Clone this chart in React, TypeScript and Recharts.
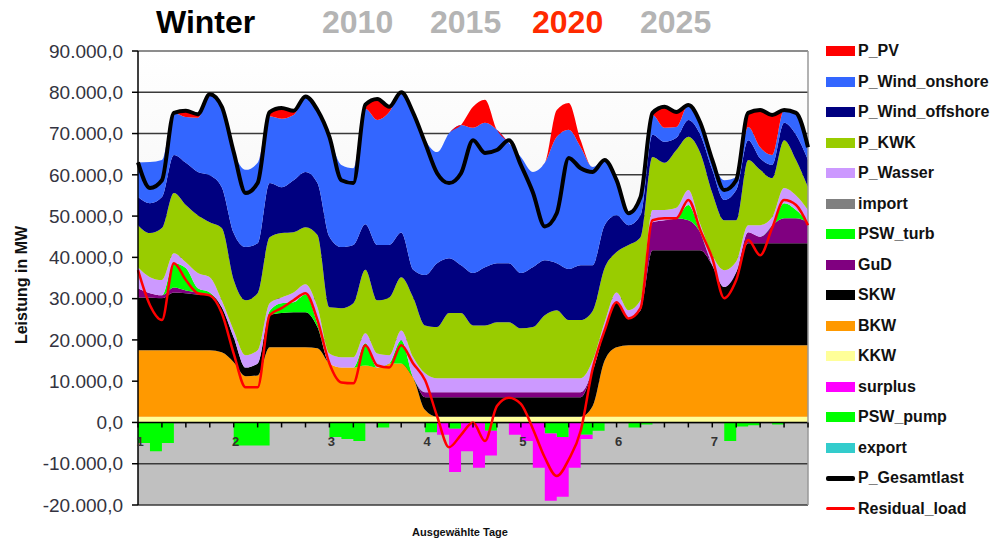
import { ComposedChart, Area, Line, XAxis, YAxis, CartesianGrid, ReferenceLine } from 'recharts'

// hours of the selected week, sampled every 3 h (7 days)
const hours = Array.from({ length: 57 }, (_, i) => i * 3)
const dayTicks = Array.from({ length: 29 }, (_, i) => i * 6)
const yTicks = [-20000, -10000, 0, 10000, 20000, 30000, 40000, 50000, 60000, 70000, 80000, 90000]

// MW per sample (rows = days)
const kkw = [
  1400, 1400, 1400, 1400, 1400, 1400, 1400, 1400,
  1400, 1400, 1400, 1400, 1400, 1400, 1400, 1400,
  1400, 1400, 1400, 1400, 1400, 1400, 1400, 1400,
  1400, 1400, 1400, 1400, 1400, 1400, 1400, 1400,
  1400, 1400, 1400, 1400, 1400, 1400, 1400, 1400,
  1400, 1400, 1400, 1400, 1400, 1400, 1400, 1400,
  1400, 1400, 1400, 1400, 1400, 1400, 1400, 1400,
  1400,
]
const bkw = [
  16100, 16100, 16100, 16100, 16100, 16100, 16100, 15600,
  13200, 9800, 10000, 16800, 16800, 16800, 16800, 16600,
  12900, 11900, 11900, 12400, 11900, 12900, 12900, 9500,
  1600, 0, 0, 0, 0, 0, 0, 0,
  0, 0, 0, 0, 0, 0, 2600, 13600,
  16800, 17300, 17300, 17300, 17300, 17300, 17300, 17300,
  17300, 17300, 17300, 17300, 17300, 17300, 17300, 17300,
  17300,
]
const skw = [
  12800, 12800, 12600, 14000, 13800, 13500, 13500, 10900,
  6000, 2100, 2900, 7800, 8300, 8500, 8500, 5100,
  0, 0, 0, 0, 0, 0, 0, 0,
  3100, 4700, 4700, 4700, 4700, 4700, 4700, 4700,
  4700, 4700, 4700, 4700, 4700, 4700, 8500, 7300,
  10900, 6500, 8500, 23000, 23000, 23000, 23000, 23000,
  19400, 14100, 17700, 24700, 24700, 24700, 24700, 24700,
  24700,
]
const gud = [
  2200, 1000, 700, 1200, 700, 500, 0, 0,
  0, 0, 0, 0, 0, 0, 0, 0,
  0, 0, 0, 0, 0, 0, 0, 0,
  1200, 1200, 1200, 1200, 1200, 1200, 1200, 1200,
  1200, 1200, 1200, 1200, 1200, 1200, 0, 0,
  0, 0, 0, 6800, 7300, 7800, 7300, 4300,
  0, 0, 0, 2700, 1600, 4400, 6100, 6100,
  5100,
]
const pswTurb = [
  0, 0, 0, 5900, 5400, 1000, 500, 0,
  0, 0, 0, 1000, 2400, 2400, 4300, 900,
  0, 0, 0, 5400, 0, 0, 5600, 0,
  0, 0, 0, 0, 0, 0, 0, 0,
  0, 0, 0, 0, 0, 0, 0, 0,
  0, 0, 0, 0, 0, 0, 3700, 0,
  0, 0, 0, 0, 0, 0, 3600, 2000,
  0,
]
const importMW = [
  0, 0, 0, 0, 0, 0, 0, 0,
  0, 0, 0, 0, 0, 0, 0, 0,
  0, 0, 0, 0, 0, 0, 0, 0,
  0, 0, 0, 0, 0, 0, 0, 0,
  0, 0, 0, 0, 0, 0, 0, 0,
  0, 0, 0, 0, 0, 0, 0, 0,
  0, 0, 0, 0, 0, 0, 0, 0,
  0,
]
const wasser = [
  5100, 3900, 3700, 2400, 1400, 3700, 3700, 1700,
  1700, 3000, 3200, 1900, 1400, 2400, 2500, 3900,
  2400, 2500, 2500, 2400, 3400, 2000, 2400, 4900,
  4600, 3400, 3400, 3400, 3400, 3400, 3400, 3400,
  3400, 3400, 3400, 3400, 3400, 3400, 2500, 2000,
  2400, 2000, 2400, 3000, 2500, 2500, 3600, 2000,
  2400, 4100, 2600, 1700, 2800, 1900, 3700, 3500,
  3000,
]
const kwk = [
  10200, 10700, 12600, 14600, 13900, 14000, 13300, 17500,
  12200, 13300, 13800, 16000, 15600, 14600, 13800, 17500,
  11200, 11900, 13100, 15400, 12900, 14000, 12900, 14500,
  11600, 12400, 15800, 15800, 12800, 12800, 13600, 13600,
  12100, 12400, 15300, 16500, 14100, 14100, 12000, 13100,
  9800, 15800, 15300, 12800, 11400, 14000, 12900, 17300,
  15100, 12100, 10000, 15800, 13400, 9500, 11600, 8600,
  5500,
]
const windOffshore = [
  6800, 7200, 7500, 9200, 10200, 10500, 11400, 9900,
  11400, 12900, 12100, 13100, 11100, 12600, 13400, 12600,
  17100, 14800, 14100, 11000, 13400, 12700, 10800, 6700,
  12200, 15500, 13300, 11600, 12700, 14100, 14300, 14300,
  13400, 14500, 13300, 11400, 12400, 13300, 11100, 10400,
  8900, 4800, 5300, 5400, 5100, 3000, 4100, 4400,
  5600, 4900, 7300, 4800, 2800, 3200, 4200, 6100,
  6600,
]
const windOnshore = [
  8400, 10000, 9000, 10200, 11100, 13100, 19600, 19500,
  19600, 18700, 19500, 16200, 16600, 15800, 18300, 17700,
  24200, 19900, 18600, 28000, 30300, 32200, 34000, 38700,
  32800, 26900, 30300, 34000, 35200, 35000, 32300, 29100,
  28100, 23100, 23600, 30600, 33700, 28600, 23800, 15800,
  8500, 2900, 4400, 4800, 3400, 2600, 3600, 2900,
  2400, 4800, 3200, 3200, 2700, 2400, 3100, 5300,
  3100,
]
const pv = [
  0, 0, 0, 0, 1500, 900, 0, 0,
  0, 0, 0, 1000, 2600, 1000, 0, 0,
  0, 0, 0, 1500, 4900, 1300, 0, 0,
  0, 0, 0, 0, 5100, 5600, 0, 0,
  0, 0, 0, 6500, 6500, 1700, 0, 0,
  0, 0, 0, 500, 5100, 3600, 0, 0,
  0, 0, 0, 3400, 9000, 9700, 0, 0,
  0,
]
const pswPump = [
  -5000, -7000, -5000, 0, 0, 0, 0, 0,
  -5600, -5600, -5600, 0, 0, 0, 0, 0,
  -3500, -4000, -4500, 0, -1200, 0, 0, 0,
  -2400, 0, -1500, 0, 0, -2000, 0, 0,
  0, 0, -2700, -3500, 0, -3000, -2000, 0,
  0, -1200, -500, 0, 0, 0, 0, 0,
  0, -4500, -1000, -700, 0, -500, 0, 0,
  0,
]
const surplus = [
  0, 0, 0, 0, 0, 0, 0, 0,
  0, 0, 0, 0, 0, 0, 0, 0,
  0, 0, 0, 0, 0, 0, 0, 0,
  0, -3000, -10500, -7000, -11000, -6000, 0, -3000,
  -4500, -11000, -16300, -14500, -11000, -1000, 0, 0,
  0, 0, 0, 0, 0, 0, 0, 0,
  0, 0, 0, 0, 0, 0, 0, 0,
  0,
]
const exportMW = [
  0, 0, 0, 0, 0, 0, 0, 0,
  0, 0, 0, 0, 0, 0, 0, 0,
  0, 0, 0, 0, 0, 0, 0, 0,
  0, 0, 0, 0, 0, 0, 0, 0,
  0, 0, 0, 0, 0, 0, 0, 0,
  0, 0, 0, 0, 0, 0, 0, 0,
  0, 0, 0, 0, 0, 0, 0, 0,
  0,
]
const gesamtlast = [
  63000, 56800, 58700, 75000, 75500, 74700, 79500, 76500,
  65500, 55600, 58000, 75200, 76200, 75500, 79000, 75700,
  69200, 58700, 58000, 77000, 78400, 76500, 80000, 75000,
  67700, 60400, 58000, 60400, 68400, 65300, 66000, 68400,
  62400, 55800, 47500, 50700, 64100, 61600, 60700, 63600,
  58700, 50700, 54600, 75000, 76500, 75200, 76900, 72600,
  63600, 56300, 58700, 75000, 75700, 74500, 75700, 75000,
  66700,
]
const residualLoad = [
  36900, 28400, 24800, 38600, 34500, 31300, 30800, 26500,
  16700, 8500, 8500, 26000, 27700, 29600, 31300, 24800,
  14300, 9700, 9500, 18700, 13800, 13300, 18700, 14300,
  10200, 1500, -6000, -3000, 0, -4500, 4000, 6000,
  4500, -1500, -8500, -13000, -9000, -2000, 13000, 22300,
  29100, 25200, 27700, 49000, 49500, 49500, 53900, 46600,
  39800, 30100, 34500, 44200, 40500, 47100, 53900, 52700,
  47800,
]

const stacked = [
  { key: 'KKW', values: kkw, color: '#ffff99' },
  { key: 'BKW', values: bkw, color: '#ff9900' },
  { key: 'SKW', values: skw, color: '#000000' },
  { key: 'GuD', values: gud, color: '#800080' },
  { key: 'PSW_turb', values: pswTurb, color: '#00ff00' },
  { key: 'import', values: importMW, color: '#808080' },
  { key: 'P_Wasser', values: wasser, color: '#cc99ff' },
  { key: 'P_KWK', values: kwk, color: '#99cc00' },
  { key: 'P_Wind_offshore', values: windOffshore, color: '#000080' },
  { key: 'P_Wind_onshore', values: windOnshore, color: '#3366ff' },
  { key: 'P_PV', values: pv, color: '#ff0000' },
]
const negative = [
  { key: 'PSW_pump', values: pswPump, color: '#00ff00' },
  { key: 'surplus', values: surplus, color: '#ff00ff' },
  { key: 'export', values: exportMW, color: '#33cccc' },
]

const legendItems = [
  { name: 'P_PV', color: '#ff0000' },
  { name: 'P_Wind_onshore', color: '#3366ff' },
  { name: 'P_Wind_offshore', color: '#000080' },
  { name: 'P_KWK', color: '#99cc00' },
  { name: 'P_Wasser', color: '#cc99ff' },
  { name: 'import', color: '#808080' },
  { name: 'PSW_turb', color: '#00ff00' },
  { name: 'GuD', color: '#800080' },
  { name: 'SKW', color: '#000000' },
  { name: 'BKW', color: '#ff9900' },
  { name: 'KKW', color: '#ffff99' },
  { name: 'surplus', color: '#ff00ff' },
  { name: 'PSW_pump', color: '#00ff00' },
  { name: 'export', color: '#33cccc' },
  { name: 'P_Gesamtlast', color: '#000000', line: 5 },
  { name: 'Residual_load', color: '#ff0000', line: 3 },
]

const data = hours.map((h, i) => {
  const row: Record<string, number> = { h, P_Gesamtlast: gesamtlast[i], Residual_load: residualLoad[i] }
  stacked.forEach(s => { row[s.key] = s.values[i] })
  negative.forEach(s => { row[s.key] = s.values[i] })
  return row
})

const FONT = '"Liberation Sans", Arial, Helvetica, sans-serif'
const CHART_W = 997
const CHART_H = 540
const MARGIN = { top: 51, right: 189, bottom: 10, left: 0 }
const Y_MIN = -20000
const Y_MAX = 90000
const PLOT_H = CHART_H - MARGIN.top - MARGIN.bottom - 25
const ZERO_Y = MARGIN.top + PLOT_H * Y_MAX / (Y_MAX - Y_MIN)
const zeroFrac = Y_MAX / (Y_MAX - Y_MIN)

const fmt = (v: number) => {
  const s = Math.abs(v).toString().replace(/\B(?=(\d{3})+(?!\d))/g, '.')
  return (v < 0 ? '-' : '') + s + ',0'
}

// x axis sits on the zero line, day numbers under it
const DayTick = ({ x, payload }: any) => {
  const h = payload.value
  return (
    <g>
      <line x1={x} x2={x} y1={ZERO_Y} y2={ZERO_Y + 5} stroke="#000" strokeWidth={1.5} />
      {h % 24 === 0 && h < 168 && (
        <text x={x + 2} y={ZERO_Y + 24} textAnchor="middle" fontSize={13} fontWeight="bold" fill="#333" fontFamily={FONT}>
          {h / 24 + 1}
        </text>
      )}
    </g>
  )
}

export default function App() {
  return (
    <div style={{ position: 'relative', width: CHART_W, height: CHART_H, background: '#fff', fontFamily: FONT }}>
      <style>{'body{margin:0}'}</style>

      {/* header */}
      <div style={{ position: 'absolute', top: 2, left: 0, fontSize: 32, fontWeight: 'bold', whiteSpace: 'nowrap', lineHeight: '40px' }}>
        <span style={{ position: 'absolute', left: 156, color: '#000' }}>Winter</span>
        <span style={{ position: 'absolute', left: 322, color: '#b4b4b4' }}>2010</span>
        <span style={{ position: 'absolute', left: 430, color: '#b4b4b4' }}>2015</span>
        <span style={{ position: 'absolute', left: 532, color: '#ff2a00' }}>2020</span>
        <span style={{ position: 'absolute', left: 640, color: '#b4b4b4' }}>2025</span>
      </div>

      <ComposedChart width={CHART_W} height={CHART_H} data={data} margin={MARGIN} stackOffset="sign">
        <defs>
          <linearGradient id="plotBg" x1="0" y1="0" x2="0" y2="1">
            <stop offset="0" stopColor="#ffffff" />
            <stop offset={zeroFrac} stopColor="#ececec" />
            <stop offset={zeroFrac} stopColor="#c0c0c0" />
            <stop offset="1" stopColor="#c0c0c0" />
          </linearGradient>
        </defs>
        <CartesianGrid vertical={false} stroke="#3a3a3a" strokeWidth={1.5} fill="url(#plotBg)" fillOpacity={1} />
        <XAxis
          dataKey="h"
          type="number"
          domain={[0, 168]}
          ticks={dayTicks}
          interval={0}
          height={25}
          axisLine={false}
          tickLine={false}
          tick={<DayTick />}
        />
        <YAxis
          type="number"
          domain={[Y_MIN, Y_MAX]}
          ticks={yTicks}
          width={138}
          interval={0}
          tickFormatter={fmt}
          tickSize={6}
          tickMargin={9}
          axisLine={{ stroke: '#000', strokeWidth: 1.5 }}
          tickLine={{ stroke: '#000', strokeWidth: 1.5 }}
          tick={{ fontSize: 19, fill: '#333340', fontFamily: FONT }}
        />
        {stacked.map(s => (
          <Area
            key={s.key}
            dataKey={s.key}
            stackId="mw"
            type="monotone"
            fill={s.color}
            fillOpacity={1}
            stroke="none"
            isAnimationActive={false}
          />
        ))}
        {negative.map(s => (
          <Area
            key={s.key}
            dataKey={s.key}
            stackId="mw"
            type="stepAfter"
            fill={s.color}
            fillOpacity={1}
            stroke="none"
            isAnimationActive={false}
          />
        ))}
        <ReferenceLine y={0} stroke="#000" strokeWidth={1.5} />
        <ReferenceLine y={Y_MAX} stroke="#999" strokeWidth={1.5} />
        <ReferenceLine x={168} stroke="#999" strokeWidth={1.5} />
        <Line dataKey="P_Gesamtlast" type="monotone" stroke="#000" strokeWidth={4} dot={false} isAnimationActive={false} />
        <Line dataKey="Residual_load" type="monotone" stroke="#ff0000" strokeWidth={2.5} dot={false} isAnimationActive={false} />
      </ComposedChart>

      {/* axis titles */}
      <div style={{ position: 'absolute', left: 22, top: 285, transform: 'translate(-50%, -50%) rotate(-90deg)', fontSize: 16, fontWeight: 'bold', whiteSpace: 'nowrap', color: '#111' }}>
        Leistung in MW
      </div>
      <div style={{ position: 'absolute', left: 460, top: 532, transform: 'translate(-50%, -50%)', fontSize: 11, fontWeight: 'bold', whiteSpace: 'nowrap', color: '#111' }}>
        Ausgewählte Tage
      </div>

      {/* legend */}
      <div style={{ position: 'absolute', left: 826, top: 36 }}>
        {legendItems.map(it => (
          <div key={it.name} style={{ display: 'flex', alignItems: 'center', height: 30.5 }}>
            <div style={{ width: 29, display: 'flex', alignItems: 'center' }}>
              <div style={{ width: 29, height: it.line ? it.line : 10, background: it.color, borderRadius: it.line ? 2 : 0 }} />
            </div>
            <span style={{ marginLeft: 3, fontSize: 16, fontWeight: 'bold', color: '#111' }}>{it.name}</span>
          </div>
        ))}
      </div>
    </div>
  )
}
